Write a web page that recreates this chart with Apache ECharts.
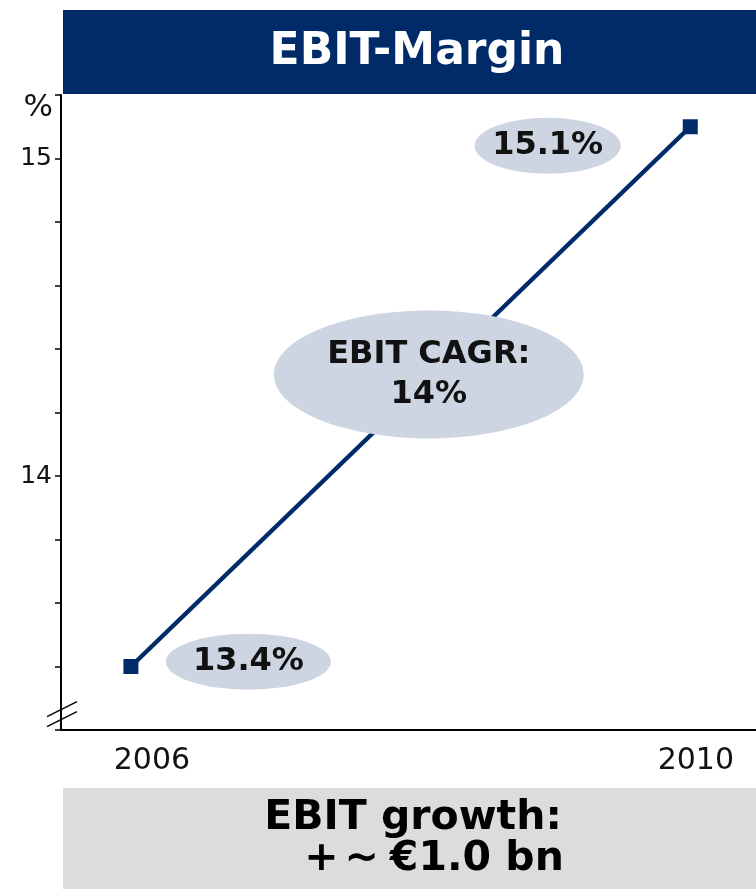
<!DOCTYPE html>
<html>
<head>
<meta charset="utf-8">
<title>EBIT-Margin</title>
<script src="https://cdn.jsdelivr.net/npm/echarts@6.0.0/dist/echarts.min.js"></script>
<style>
  html, body { margin: 0; padding: 0; background: #fff; }
  #chart { width: 756px; height: 889px; }
</style>
</head>
<body>
<div id="chart"></div>
<script>
var years = [2006, 2010];
var margin = [13.4, 15.1];
var xLabels = ['2006', '2010'];
var yLabels = ['14', '15'];
var pointLabels = ['13.4%', '15.1%'];
var cagrText = 'EBIT CAGR:\n14%';
var titleText = 'EBIT-Margin';
var growthLines = ['EBIT growth:', ['+', '~', '€1.0 bn']];

var navy = '#002a68';
var bubble = '#cdd4e2';
var font = 'DejaVu Sans';

var chart = echarts.init(document.getElementById('chart'));

var option = {
  backgroundColor: '#fff',
  animation: false,
  grid: { left: 61, right: 0, top: 95, bottom: 159 },
  xAxis: {
    type: 'value',
    min: 2005.5,
    max: 2010.47,
    axisLine: { lineStyle: { color: '#000', width: 2 } },
    axisTick: { show: false },
    splitLine: { show: false },
    axisLabel: {
      customValues: [years[0] + 0.15, years[1] + 0.04],
      formatter: function (v) { return xLabels[v < 2008 ? 0 : 1]; },
      margin: 16,
      fontFamily: font,
      fontSize: 30,
      color: '#111'
    }
  },
  yAxis: {
    type: 'value',
    min: 13.2,
    max: 15.2,
    interval: 0.2,
    name: '%',
    nameLocation: 'end',
    nameGap: -13,
    nameTextStyle: {
      fontFamily: font, fontSize: 31, color: '#111',
      align: 'right', verticalAlign: 'middle', padding: [0, 8, 0, 0]
    },
    axisLine: { show: true, lineStyle: { color: '#000', width: 2 } },
    axisTick: { show: true, length: 6, lineStyle: { color: '#000', width: 1.5 } },
    splitLine: { show: false },
    axisLabel: {
      margin: 9,
      fontFamily: font,
      fontSize: 25,
      color: '#111',
      formatter: function (v) {
        var s = String(Math.round(v));
        return Math.abs(v - Math.round(v)) < 1e-6 && yLabels.indexOf(s) >= 0 ? s : '';
      }
    }
  },
  series: [
    {
      type: 'line',
      data: years.map(function (y, i) { return [y, margin[i]]; }),
      symbol: 'rect',
      symbolSize: 15,
      lineStyle: { color: navy, width: 4.5 },
      itemStyle: { color: navy },
      z: 2
    },
    {
      // annotation bubbles
      type: 'scatter',
      z: 5,
      silent: true,
      itemStyle: { color: bubble, opacity: 1 },
      label: {
        show: true,
        position: 'inside',
        fontFamily: font,
        fontWeight: 'bold',
        fontSize: 32,
        lineHeight: 40,
        color: '#111'
      },
      data: [
        { value: [2006.84, 13.415], symbolSize: [165, 56], label: { formatter: pointLabels[0] } },
        { value: [2008.98, 15.04], symbolSize: [146, 56], label: { formatter: pointLabels[1] } },
        { value: [2008.13, 14.32], symbolSize: [310, 128], label: { formatter: cagrText } }
      ]
    }
  ]
};

chart.setOption(option);

// axis break mark, title bar and bottom box
var p = chart.convertToPixel({ gridIndex: 0 }, [2005.5, 13.28]);
var g2 = growthLines[1];
chart.setOption({
  graphic: [
    { type: 'rect', shape: { x: 63, y: 10, width: 693, height: 84 }, style: { fill: navy } },
    { type: 'text', x: 417, y: 53, style: {
      text: titleText, fill: '#fff', font: 'bold 44px "DejaVu Sans"',
      textAlign: 'center', textVerticalAlign: 'middle' } },
    { type: 'line', shape: { x1: p[0] - 14, y1: p[1] + 12, x2: p[0] + 16, y2: p[1] - 3 },
      style: { stroke: '#000', lineWidth: 1.5 } },
    { type: 'line', shape: { x1: p[0] - 14, y1: p[1] + 22, x2: p[0] + 16, y2: p[1] + 7 },
      style: { stroke: '#000', lineWidth: 1.5 } },
    { type: 'rect', shape: { x: 63, y: 788, width: 693, height: 101 }, style: { fill: '#dcdcdc' } },
    { type: 'text', x: 413, y: 818, style: {
      text: growthLines[0], fill: '#000', font: 'bold 41px "DejaVu Sans"',
      textAlign: 'center', textVerticalAlign: 'middle' } },
    { type: 'text', x: 434, y: 859, style: {
      text: '{a|' + g2[0] + '}{b|' + g2[1] + '}{c|' + g2[2] + '}',
      fill: '#000', font: 'bold 41px "DejaVu Sans"',
      textAlign: 'center', textVerticalAlign: 'middle',
      rich: {
        a: { fontFamily: font, fontWeight: 'bold', fontSize: 41, padding: [0, 6, 0, 0] },
        b: { fontFamily: font, fontWeight: 'bold', fontSize: 41, padding: [0, 11, 0, 0] },
        c: { fontFamily: font, fontWeight: 'bold', fontSize: 41 }
      } } }
  ]
});
</script>
</body>
</html>
